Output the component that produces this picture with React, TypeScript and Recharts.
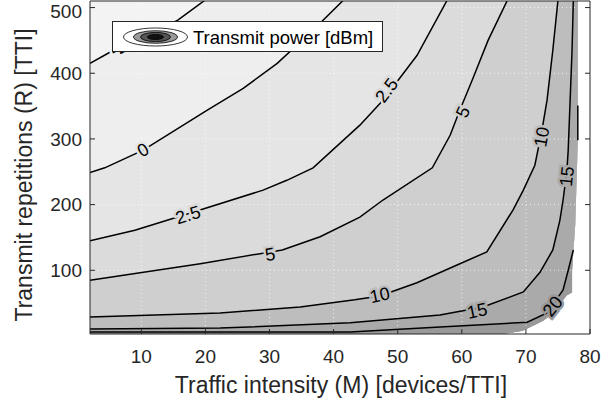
import React from 'react';
import { ComposedChart, Area, Line, Scatter, XAxis, YAxis, ReferenceLine, Label } from 'recharts';

// ---------- data ----------
const X_DOMAIN: [number, number] = [2, 80];
const Y_DOMAIN: [number, number] = [3, 510];
const X_TICKS = [10, 20, 30, 40, 50, 60, 70, 80];
const Y_TICKS = [100, 200, 300, 400, 500];
const X_GRID = [10, 20, 30, 40, 50, 60, 70];
const Y_GRID = [100, 200, 300, 400, 500];

// contour lines (transmit power levels in dBm)
const C_M2_5 = [
  { x: 2, y: 415 }, { x: 5.1, y: 432 }, { x: 10.6, y: 456 }, { x: 15.7, y: 481 }, { x: 19.9, y: 511 },
];
const C_0 = [
  { x: 2, y: 249 }, { x: 4.3, y: 256 }, { x: 10.3, y: 283 }, { x: 20.3, y: 344 }, { x: 25.9, y: 377 },
  { x: 31.2, y: 415 }, { x: 36.3, y: 461 }, { x: 41.5, y: 511 },
];
const C_2_5 = [
  { x: 2, y: 145 }, { x: 9, y: 161 }, { x: 17.3, y: 186 }, { x: 29, y: 222 }, { x: 32.7, y: 237 },
  { x: 36.8, y: 256 }, { x: 44.1, y: 321 }, { x: 47.7, y: 359 }, { x: 53, y: 427 }, { x: 57.7, y: 511 },
];
const C_5 = [
  { x: 2, y: 85 }, { x: 19.2, y: 110 }, { x: 32, y: 131 }, { x: 37.9, y: 151 }, { x: 44.1, y: 181 },
  { x: 47.7, y: 207 }, { x: 55.4, y: 256 }, { x: 58.2, y: 306 }, { x: 59.7, y: 344 }, { x: 61.6, y: 389 },
  { x: 64.1, y: 450 }, { x: 67.1, y: 511 },
];
const C_10 = [
  { x: 2, y: 29 }, { x: 22.3, y: 35 }, { x: 34.8, y: 44 }, { x: 43.3, y: 55 }, { x: 47.2, y: 61 },
  { x: 53, y: 81 }, { x: 59.7, y: 110 }, { x: 63.9, y: 128 }, { x: 68, y: 192 }, { x: 69.6, y: 222 },
  { x: 71.4, y: 260 }, { x: 72.5, y: 313 }, { x: 73.3, y: 359 }, { x: 74.2, y: 435 }, { x: 75, y: 511 },
];
const C_15 = [
  { x: 2, y: 10.6 }, { x: 22.3, y: 12 }, { x: 42.6, y: 20 }, { x: 56.6, y: 32 }, { x: 63.3, y: 44 },
  { x: 69.6, y: 67 }, { x: 72.2, y: 97 }, { x: 74.2, y: 131 }, { x: 75.3, y: 176 }, { x: 75.8, y: 207 },
  { x: 76.4, y: 252 }, { x: 76.6, y: 283 }, { x: 76.9, y: 359 }, { x: 77.2, y: 435 }, { x: 77.4, y: 511 },
];
const C_20 = [
  { x: 2, y: 6 }, { x: 42.6, y: 6 }, { x: 56.6, y: 13.6 }, { x: 70.2, y: 21 }, { x: 73.3, y: 35 },
  { x: 75.8, y: 70 }, { x: 76.6, y: 100 }, { x: 77.4, y: 131 },
];
const C_20_UPPER = [{ x: 78.1, y: 298 }, { x: 78.1, y: 351 }];

// right / bottom edge of the computed data region
const DATA_EDGE = [
  { x: 78.1, y: 511 }, { x: 78.1, y: 300 }, { x: 77.7, y: 170 }, { x: 77.2, y: 100 }, { x: 77.2, y: 66 },
  { x: 76.4, y: 62 }, { x: 73.8, y: 31 }, { x: 72.7, y: 23 }, { x: 69.5, y: 8 }, { x: 66.4, y: 3 },
];
const TOP_LEFT = [{ x: 2, y: 511 }];

// contour labels
const LABELS = [
  { text: '-2.5', x: 7.5, y: 443, angle: -28 },
  { text: '0', x: 10.3, y: 283, angle: -30 },
  { text: '2.5', x: 17.3, y: 184, angle: -17 },
  { text: '2.5', x: 48.3, y: 374, angle: -53 },
  { text: '5', x: 30.1, y: 124, angle: -10 },
  { text: '5', x: 60.2, y: 341, angle: -66 },
  { text: '10', x: 47.2, y: 62, angle: -12 },
  { text: '10', x: 72.5, y: 303, angle: -80 },
  { text: '15', x: 62.4, y: 38, angle: -12 },
  { text: '15', x: 76.4, y: 243, angle: -84 },
  { text: '20', x: 74.2, y: 45, angle: -52 },
];

const LEGEND_TEXT = 'Transmit power [dBm]';
const X_LABEL = 'Traffic intensity (M) [devices/TTI]';
const Y_LABEL = 'Transmit repetitions (R) [TTI]';

// ---------- styles ----------
const FONT = '"Liberation Sans", Arial, Helvetica, sans-serif';
const INK = '#262626';
const BAND_COLORS: Record<string, string> = {
  bg: '#f3f3f3',
  '-2.5': '#eeeeee',
  '0': '#e5e5e5',
  '2.5': '#dbdbdb',
  '5': '#cfcfcf',
  '10': '#bdbdbd',
  '15': '#aaaaaa',
  '20': '#999999',
};

const REGIONS = [
  { key: 'bg', data: [...TOP_LEFT, ...DATA_EDGE] },
  { key: '-2.5', data: [...C_M2_5, ...DATA_EDGE] },
  { key: '0', data: [...C_0, ...DATA_EDGE] },
  { key: '2.5', data: [...C_2_5, ...DATA_EDGE] },
  { key: '5', data: [...C_5, ...DATA_EDGE] },
  { key: '10', data: [...C_10, ...DATA_EDGE] },
  { key: '15', data: [...C_15, ...DATA_EDGE] },
  { key: '20', data: [...C_20, ...DATA_EDGE.filter((p) => p.y < 131)] },
];
const CONTOURS = [C_M2_5, C_0, C_2_5, C_5, C_10, C_15, C_20, C_20_UPPER];

const renderLabel = (props: any) => {
  const { cx, cy, payload } = props;
  if (cx == null || cy == null) return <g />;
  const halo = BAND_COLORS[payload.text] || '#dddddd';
  return (
    <text
      x={cx}
      y={cy}
      transform={`rotate(${payload.angle} ${cx} ${cy})`}
      textAnchor="middle"
      dominantBaseline="central"
      fontFamily={FONT}
      fontSize={18}
      fill="#000"
      stroke={halo}
      strokeWidth={5}
      paintOrder="stroke"
      style={{ paintOrder: 'stroke' }}
    >
      {payload.text}
    </text>
  );
};

const emptyTick = () => <g />;

export default function App() {
  return (
    <div style={{ position: 'absolute', left: 0, top: 0, width: 601, height: 405, background: '#fff' }}>
      <ComposedChart width={601} height={405} margin={{ top: 0, right: 0, bottom: 0, left: 0 }}>
        <XAxis
          dataKey="x"
          type="number"
          domain={X_DOMAIN}
          ticks={X_TICKS}
          allowDataOverflow
          height={71}
          stroke={INK}
          tickSize={-5}
          tickMargin={21}
          tick={{ fontSize: 19, fill: INK, fontFamily: FONT }}
        >
          <Label
            content={(p: any) => {
              const vb = p.viewBox || { x: 90, y: 334, width: 500 };
              return (
                <text x={vb.x + vb.width / 2 + 1} y={vb.y + 59} textAnchor="middle" fontFamily={FONT} fontSize={23} fill={INK}>
                  {X_LABEL}
                </text>
              );
            }}
          />
        </XAxis>
        <XAxis
          xAxisId="top"
          orientation="top"
          type="number"
          domain={X_DOMAIN}
          ticks={X_TICKS}
          allowDataOverflow
          height={1}
          stroke={INK}
          tickSize={-5}
          tick={emptyTick}
        />
        <YAxis
          dataKey="y"
          type="number"
          domain={Y_DOMAIN}
          ticks={Y_TICKS}
          allowDataOverflow
          width={90}
          stroke={INK}
          tickSize={-5}
          tickMargin={13}
          tick={{ fontSize: 19, fill: INK, fontFamily: FONT }}
        >
          <Label
            content={() => (
              <text x={32} y={175} transform="rotate(-90 32 175)" textAnchor="middle" fontFamily={FONT} fontSize={23} fill={INK}>
                {Y_LABEL}
              </text>
            )}
          />
        </YAxis>
        <YAxis
          yAxisId="right"
          orientation="right"
          type="number"
          domain={Y_DOMAIN}
          ticks={Y_TICKS}
          allowDataOverflow
          width={11}
          stroke={INK}
          tickSize={-5}
          tick={emptyTick}
        />

        {REGIONS.map((r) => (
          <Area
            key={r.key}
            data={r.data}
            dataKey="y"
            type="linear"
            fill={BAND_COLORS[r.key]}
            fillOpacity={1}
            stroke="none"
            baseValue={Y_DOMAIN[0]}
            dot={false}
            activeDot={false}
            isAnimationActive={false}
          />
        ))}

        {X_GRID.map((v) => (
          <ReferenceLine key={'gx' + v} x={v} stroke="#ffffff" strokeOpacity={0.75} strokeDasharray="1 3" />
        ))}
        {Y_GRID.map((v) => (
          <ReferenceLine key={'gy' + v} y={v} stroke="#ffffff" strokeOpacity={0.75} strokeDasharray="1 3" />
        ))}

        {CONTOURS.map((c, i) => (
          <Line
            key={'c' + i}
            data={c}
            dataKey="y"
            type="linear"
            stroke="#000"
            strokeWidth={1.5}
            dot={false}
            activeDot={false}
            isAnimationActive={false}
          />
        ))}

        <Scatter data={LABELS} dataKey="y" shape={renderLabel} isAnimationActive={false} />
      </ComposedChart>

      <div style={{ position: 'absolute', left: 112, top: 21, width: 271, height: 31 }}>
        <svg width={271} height={31} style={{ display: 'block' }}>
          <rect x={0.5} y={0.5} width={270} height={30} fill="#fff" stroke={INK} strokeWidth={1} />
          <ellipse cx={43.5} cy={16} rx={32} ry={9} fill="#fff" stroke="#000" strokeWidth={0.8} />
          <ellipse cx={43.5} cy={16} rx={22} ry={6.3} fill="#9a9a9a" stroke="#000" strokeWidth={0.8} />
          <ellipse cx={43.5} cy={16} rx={15} ry={4.6} fill="#555" stroke="#000" strokeWidth={0.8} />
          <ellipse cx={43.5} cy={16} rx={8} ry={2.6} fill="#111" stroke="#000" strokeWidth={0.8} />
          <text x={81} y={23} fontFamily={FONT} fontSize={18.5} fill="#000">
            {LEGEND_TEXT}
          </text>
        </svg>
      </div>
    </div>
  );
}
